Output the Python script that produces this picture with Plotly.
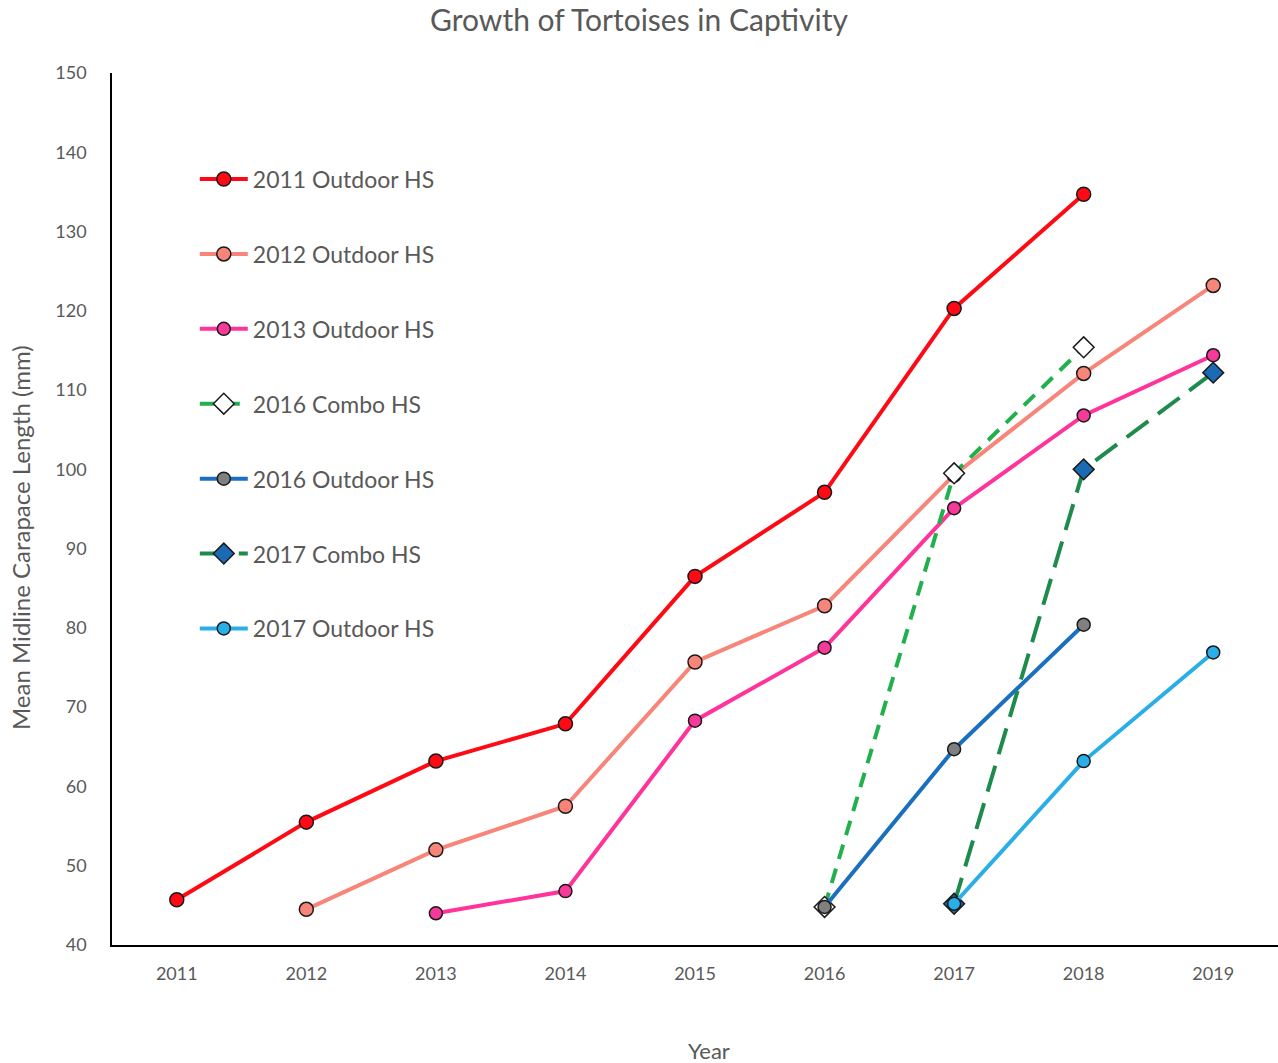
import plotly.graph_objects as go

years = ["2011", "2012", "2013", "2014", "2015", "2016", "2017", "2018", "2019"]

# Mean midline carapace length (mm) by head-start cohort
outdoor_2011 = [45.7, 55.5, 63.2, 67.9, 86.5, 97.1, 120.3, 134.7, None]
outdoor_2012 = [None, 44.5, 52.0, 57.5, 75.7, 82.8, 99.3, 112.1, 123.2]
outdoor_2013 = [None, None, 44.0, 46.8, 68.3, 77.5, 95.1, 106.8, 114.4]
combo_2016 = [None, None, None, None, None, 44.8, 99.5, 115.4, None]
outdoor_2016 = [None, None, None, None, None, 44.8, 64.7, 80.4, None]
combo_2017 = [None, None, None, None, None, None, 45.2, 100.0, 112.2]
outdoor_2017 = [None, None, None, None, None, None, 45.2, 63.2, 76.9]

series = [
    ("2011 Outdoor HS", outdoor_2011, "#FF0A14", "solid", "circle", "#FF0A14", 14),
    ("2012 Outdoor HS", outdoor_2012, "#F8857A", "solid", "circle", "#F8857A", 14),
    ("2013 Outdoor HS", outdoor_2013, "#FF3399", "solid", "circle", "#F7399A", 13),
    ("2016 Combo HS", combo_2016, "#22B04C", "15px,10px", "diamond", "#FFFFFF", 16),
    ("2016 Outdoor HS", outdoor_2016, "#1A70BE", "solid", "circle", "#808080", 13),
    ("2017 Combo HS", combo_2017, "#1E8A4C", "27px,12px", "diamond", "#1A6BB4", 16),
    ("2017 Outdoor HS", outdoor_2017, "#2AAEE8", "solid", "circle", "#2AAEE8", 13),
]

FONT = "Lato, Open Sans, sans-serif"
GREY = "#595959"

fig = go.Figure()
for i, (name, vals, lc, dash, sym, mc, ms) in enumerate(series):
    fig.add_trace(go.Scatter(
        x=years, y=vals, name=name, mode="lines+markers",
        legendgroup=f"g{i}",
        connectgaps=False,
        line=dict(color=lc, width=4, dash=dash),
        marker=dict(symbol=sym, size=ms, color=mc,
                    line=dict(color="#1A1A1A", width=1.5)),
    ))

fig.update_layout(
    width=1278, height=1063,
    paper_bgcolor="white", plot_bgcolor="white",
    margin=dict(l=112, r=0, t=73, b=118),
    title=dict(text="Growth of Tortoises in Captivity", x=0.5, xanchor="center",
               y=0.981, yanchor="middle",
               font=dict(family=FONT, size=30, color=GREY)),
    font=dict(family=FONT, color=GREY),
    legend=dict(x=0.071, y=0.903, xanchor="left", yanchor="top",
                bgcolor="rgba(0,0,0,0)", tracegroupgap=42,
                font=dict(family=FONT, size=23, color=GREY),
                itemwidth=48),
    showlegend=True,
    annotations=[
        dict(text="Mean Midline Carapace Length (mm)", textangle=-90,
             xref="paper", yref="paper", x=0, y=0.4667, xshift=-92,
             showarrow=False, xanchor="center", yanchor="middle",
             font=dict(family=FONT, size=24, color=GREY)),
        dict(text="Year", xref="paper", yref="paper", x=0.5, y=0,
             xshift=14, yshift=-105, showarrow=False,
             xanchor="center", yanchor="middle",
             font=dict(family=FONT, size=22, color=GREY)),
    ],
)

fig.update_xaxes(
    type="category", range=[-0.5, 8.5],
    showline=True, linecolor="#000000", linewidth=1.5,
    showgrid=False, zeroline=False,
    ticks="", tickfont=dict(family=FONT, size=18, color=GREY),
    ticklabelstandoff=12,
)
fig.update_yaxes(
    range=[40, 150], dtick=10, tick0=40,
    showline=True, linecolor="#000000", linewidth=1.5,
    showgrid=False, zeroline=False,
    ticks="", tickfont=dict(family=FONT, size=18, color=GREY),
    ticklabelstandoff=20,
)

fig.write_html("out.html")
